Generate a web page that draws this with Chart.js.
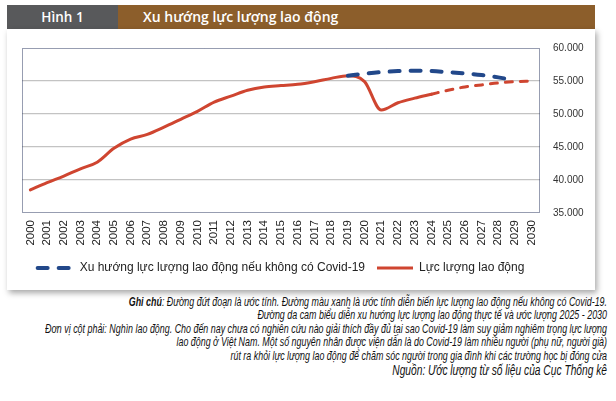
<!DOCTYPE html>
<html>
<head>
<meta charset="utf-8">
<script src="https://cdn.jsdelivr.net/npm/chart.js@4.4.1/dist/chart.umd.min.js"></script>
<style>
  html, body { margin: 0; padding: 0; background: #fff; }
  body { width: 616px; height: 401px; position: relative; overflow: hidden; }
  #hdrNum { position: absolute; left: 7px; top: 5px; width: 111px; height: 24px; background: #58595b;
    color: #fff; font: 600 13.5px "Open Sans", sans-serif; line-height: 24px; text-align: center; }
  #hdrTitle { position: absolute; left: 118px; top: 5px; width: 477px; height: 24px; background: #8c5e2b;
    color: #fff; font: 600 14px "Open Sans", sans-serif; line-height: 24px; padding-left: 25px; box-sizing: border-box; }
  #card { position: absolute; left: 7px; top: 29px; width: 588px; height: 261px; background: #fff;
    box-shadow: 2px 3px 6px rgba(0,0,0,0.35); }
  #notes { position: absolute; right: 9px; top: 295px; text-align: right; white-space: nowrap;
    font: italic 13.5px "Liberation Sans", Arial, sans-serif; line-height: 13.4px; color: #111;
    transform-origin: right top; }
  #notes .src { font-size: 15.5px; line-height: 16px; }
</style>
</head>
<body>
<div id="hdrNum">Hình 1</div>
<div id="hdrTitle">Xu hướng lực lượng lao động</div>
<div id="card"><canvas id="chart1" width="588" height="261"></canvas></div>
<div id="notes">
  <div><b>Ghi chú</b>: Đường đứt đoạn là ước tính. Đường màu xanh là ước tính diễn biến lực lượng lao động nếu không có Covid-19.</div>
  <div>Đường da cam biểu diễn xu hướng lực lượng lao động thực tế và ước lượng 2025 - 2030</div>
  <div>Đơn vị cột phải: Nghìn lao động. Cho đến nay chưa có nghiên cứu nào giải thích đầy đủ tại sao Covid-19 làm suy giảm nghiêm trọng lực lượng</div>
  <div>lao động ở Việt Nam. Một số nguyên nhân được viện dẫn là do Covid-19 làm nhiều người (phụ nữ, người già)</div>
  <div>rút ra khỏi lực lượng lao động để chăm sóc người trong gia đình khi các trường học bị đóng cửa</div>
  <div class="src">Nguồn: Ước lượng từ số liệu của Cục Thống kê</div>
</div>
<script>
var years = ['2000', '2001', '2002', '2003', '2004', '2005', '2006', '2007', '2008', '2009',
    '2010', '2011', '2012', '2013', '2014', '2015', '2016', '2017', '2018', '2019',
    '2020', '2021', '2022', '2023', '2024', '2025', '2026', '2027', '2028', '2029', '2030'];

// luc luong lao dong (nghin nguoi), 2025-2030 la uoc luong
var laborForce = [38500, 39600, 40600, 41700, 42700, 44800, 46200, 46900, 48000, 49200,
    50400, 51800, 52700, 53600, 54100, 54300, 54500, 54900, 55400, 55800,
    54900, 50600, 51700, 52400, 53000, 53600, 54100, 54400, 54700, 54900, 55000];

// xu huong neu khong co Covid-19
var noCovidTrend = [null, null, null, null, null, null, null, null, null, null,
    null, null, null, null, null, null, null, null, null, 55800,
    56100, 56350, 56500, 56550, 56500, 56350, 56150, 55900, 55550, 55100, null];

var yTicks = [35000, 40000, 45000, 50000, 55000, 60000];
var firstEstimate = 24;

var sans = '"Liberation Sans", Arial, sans-serif';

// ghi chu: chu hep lai cho vua chieu rong
var notes = document.getElementById('notes');
notes.style.transform = 'scaleX(' + (562 / notes.offsetWidth) + ')';

function fmt(v) {
    var k = Math.floor(v / 1000);
    var r = String(v % 1000).padStart(3, '0');
    return k + '.' + r;
}

var frame = {
    id: 'frame',
    beforeDatasetsDraw: function(chart) {
        var ctx = chart.ctx, a = chart.chartArea;
        ctx.save();
        ctx.strokeStyle = '#2e3b63';
        ctx.lineWidth = 1;
        ctx.setLineDash([1, 1]);
        ctx.strokeRect(a.left + 0.5, a.top + 0.5, a.right - a.left - 1, a.bottom - a.top - 1);
        ctx.restore();
    }
};

var ctx = document.getElementById('chart1').getContext('2d');

var myChart1 = new Chart(ctx, {
    type: 'line',
    data: {
        labels: years,
        datasets: [{
            label: 'Xu hướng lực lượng lao động nếu không có Covid-19',
            data: noCovidTrend,
            borderColor: '#22488a',
            borderWidth: 4,
            borderDash: [10, 11],
            borderCapStyle: 'round',
            pointRadius: 0,
            cubicInterpolationMode: 'monotone',
            spanGaps: false
        }, {
            label: 'Lực lượng lao động',
            data: laborForce,
            borderColor: '#cf4530',
            borderWidth: 3,
            borderCapStyle: 'round',
            borderJoinStyle: 'round',
            pointRadius: 0,
            cubicInterpolationMode: 'monotone',
            segment: {
                borderDash: function(c) { return c.p0DataIndex >= firstEstimate ? [7, 8] : undefined; }
            }
        }]
    },
    options: {
        responsive: false,
        animation: false,
        layout: { padding: { left: 15, top: 17, right: 0, bottom: 6 } },
        plugins: {
            tooltip: { enabled: false },
            legend: {
                position: 'bottom',
                fullSize: false,
                labels: {
                    usePointStyle: true,
                    pointStyleWidth: 36,
                    padding: 12,
                    color: '#222',
                    font: { family: sans, size: 12 },
                    generateLabels: function(chart) {
                        return chart.data.datasets.map(function(ds, i) {
                            return {
                                text: ds.label,
                                strokeStyle: ds.borderColor,
                                fillStyle: ds.borderColor,
                                lineWidth: ds.borderWidth,
                                lineDash: ds.borderDash || [],
                                lineCap: i === 0 ? 'round' : 'butt',
                                pointStyle: 'line',
                                fontColor: '#222',
                                hidden: false,
                                datasetIndex: i
                            };
                        });
                    }
                }
            }
        },
        scales: {
            x: {
                offset: true,
                grid: { display: false, drawTicks: false },
                border: { display: false },
                ticks: {
                    autoSkip: false, minRotation: 90, maxRotation: 90, padding: 7,
                    color: '#222', font: { family: sans, size: 11.5 }
                },
                afterFit: function(s) { s.height = 37; }
            },
            y: {
                position: 'right',
                min: 35000,
                max: 60000,
                afterBuildTicks: function(s) { s.ticks = yTicks.map(function(v) { return { value: v }; }); },
                grid: {
                    drawTicks: false,
                    color: function(c) { return (c.tick && (c.tick.value === 35000 || c.tick.value === 60000)) ? 'rgba(0,0,0,0)' : '#c3c3c3'; },
                    lineWidth: 1.2
                },
                border: { display: false },
                ticks: {
                    padding: 13, color: '#333',
                    font: { family: sans, size: 10 },
                    callback: function(v) { return fmt(v); }
                },
                afterFit: function(s) { s.width = 55; }
            }
        }
    },
    plugins: [frame]
});
</script>
</body>
</html>
